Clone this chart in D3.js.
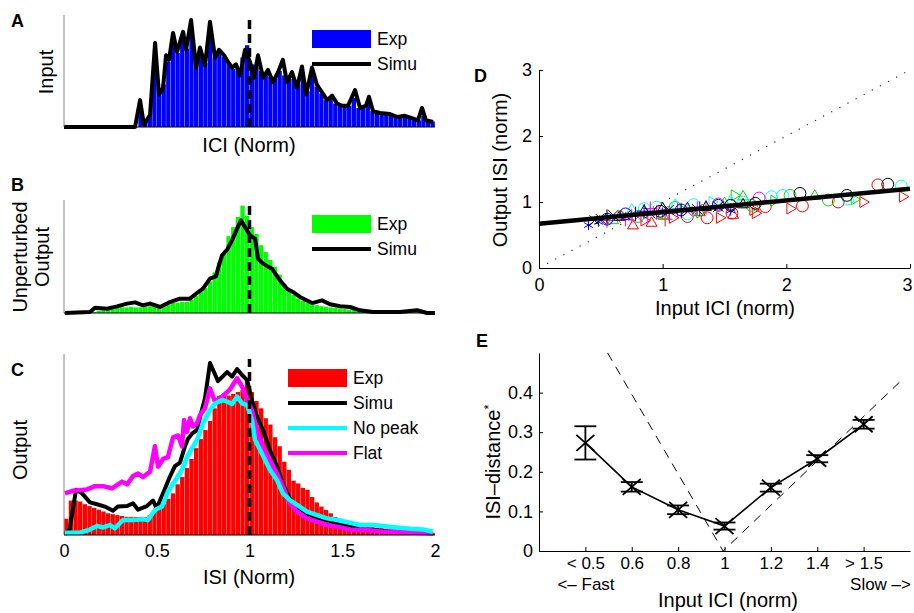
<!DOCTYPE html>
<html>
<head>
<meta charset="utf-8">
<script src="https://cdn.jsdelivr.net/npm/d3@7"></script>
<style>
  body { margin: 0; background: #fff; }
  text { font-family: "Liberation Sans", Arial, Helvetica, sans-serif; fill: #000; }
</style>
</head>
<body>
<svg id="fig" width="914" height="613"></svg>
<script>
// ---- data ----
const binW = 0.025;

// A: input ICI histogram
const inputExp = [0,0,0,0,0,0,0,0,0,0,0,0,0,0,0,0,
  0.18,0.05,0.1,0.6,0.3,0.38,0.58,0.76,0.66,0.8,0.7,0.85,0.56,0.68,0.57,0.85,
  0.62,0.66,0.63,0.57,0.52,0.5,0.62,0.73,0.56,0.54,0.5,0.47,0.45,0.44,0.5,0.46,
  0.43,0.43,0.38,0.46,0.32,0.46,0.36,0.3,0.24,0.25,0.21,0.19,0.18,0.19,0.26,0.17,
  0.17,0.21,0.14,0.12,0.12,0.11,0.11,0.09,0.095,0.09,0.085,0.07,0.06,0.1,0.06,0.05];
const inputSimuX = [0,0.383,0.41,0.431,0.464,0.491,0.512,0.534,0.55,0.566,0.588,0.609,0.642,0.658,0.685,0.712,0.733,0.76,0.787,0.814,0.836,0.863,0.884,0.906,0.927,0.949,0.976,1.003,1.024,1.046,1.073,1.1,1.127,1.154,1.18,1.202,1.229,1.256,1.283,1.305,1.337,1.364,1.391,1.418,1.445,1.472,1.499,1.531,1.569,1.596,1.628,1.644,1.666,1.704,1.757,1.795,1.838,1.876,1.908,1.93,1.951,1.989];
const inputSimuY = [0,0,0.24,0.02,0.11,0.75,0.29,0.35,0.64,0.6,0.84,0.67,0.85,0.69,0.955,0.53,0.71,0.55,0.94,0.62,0.69,0.64,0.58,0.53,0.56,0.46,0.69,0.58,0.44,0.64,0.44,0.51,0.4,0.49,0.6,0.4,0.49,0.35,0.54,0.29,0.53,0.375,0.31,0.24,0.28,0.21,0.19,0.19,0.33,0.17,0.19,0.27,0.14,0.125,0.116,0.09,0.1,0.08,0.06,0.17,0.06,0.045];

// B: unperturbed output
const unpertExp = [0.005,0.005,0.005,0.005,0.005,0.005,0.01,0.02,0.025,0.03,0.04,0.045,0.05,0.05,0.055,0.05,
  0.05,0.055,0.06,0.06,0.07,0.08,0.08,0.09,0.09,0.1,0.1,0.12,0.15,0.19,0.22,0.28,
  0.36,0.45,0.54,0.68,0.76,0.85,0.95,0.86,0.76,0.7,0.6,0.54,0.47,0.41,0.34,0.26,
  0.2,0.16,0.13,0.11,0.09,0.08,0.07,0.06,0.055,0.05,0.045,0.04,0.035,0.03,0.03,0.025,
  0.025,0.02,0.02,0.018,0.015,0.015,0.012,0.012,0.01,0.01,0.01,0.008,0.008,0.008,0.006,0.006];
const unpertSimuX = [0.005,0.14,0.167,0.232,0.286,0.34,0.383,0.426,0.464,0.518,0.571,0.625,0.679,0.717,0.749,0.787,0.819,0.83,0.852,0.879,0.906,0.933,0.954,0.976,1.003,1.03,1.046,1.073,1.121,1.164,1.202,1.234,1.272,1.337,1.391,1.434,1.488,1.542,1.596,1.666,1.741,1.811,1.903,1.957,2.0];
const unpertSimuY = [0,0.009,0.047,0.038,0.059,0.083,0.094,0.068,0.083,0.053,0.097,0.127,0.127,0.177,0.215,0.304,0.324,0.392,0.51,0.56,0.643,0.746,0.82,0.76,0.687,0.658,0.48,0.437,0.392,0.289,0.215,0.186,0.142,0.088,0.112,0.077,0.059,0.053,0.024,0.009,0.009,0.009,0.024,0,0];

// C: output
const outputExp = [0.09,0.19,0.19,0.185,0.17,0.16,0.15,0.14,0.13,0.12,0.115,0.11,0.105,0.1,0.1,0.1,
  0.1,0.1,0.11,0.13,0.15,0.17,0.2,0.23,0.28,0.32,0.37,0.42,0.48,0.53,0.58,0.63,
  0.7,0.77,0.78,0.77,0.78,0.79,0.8,0.86,0.79,0.74,0.7,0.645,0.61,0.54,0.49,0.405,
  0.36,0.3,0.285,0.26,0.25,0.21,0.18,0.157,0.138,0.12,0.1,0.09,0.083,0.075,0.065,0.06,
  0.055,0.05,0.045,0.04,0.038,0.035,0.032,0.03,0.028,0.025,0.022,0.02,0.02,0.018,0.015,0.012];
const outSimuX = [0.005,0.03,0.065,0.097,0.14,0.178,0.22,0.264,0.29,0.34,0.372,0.399,0.447,0.48,0.5,0.534,0.57,0.598,0.625,0.652,0.668,0.69,0.717,0.733,0.76,0.787,0.83,0.879,0.906,0.933,0.96,0.987,1.013,1.04,1.073,1.11,1.148,1.18,1.218,1.256,1.31,1.364,1.418,1.472,1.542,1.596,1.666,1.757,1.865,1.989];
const outSimuY = [0.005,0.03,0.25,0.23,0.18,0.17,0.157,0.134,0.157,0.16,0.175,0.14,0.16,0.19,0.147,0.23,0.32,0.38,0.4,0.49,0.53,0.56,0.58,0.65,0.755,0.95,0.85,0.9,0.875,0.917,0.884,0.856,0.746,0.654,0.58,0.47,0.38,0.285,0.2,0.157,0.12,0.096,0.083,0.064,0.046,0.031,0.028,0.018,0.015,0.01];
const noPeakX = [0.005,0.086,0.14,0.178,0.21,0.248,0.275,0.318,0.372,0.426,0.453,0.49,0.528,0.56,0.598,0.636,0.663,0.69,0.717,0.749,0.787,0.814,0.852,0.879,0.906,0.933,0.96,0.987,1.013,1.03,1.067,1.11,1.148,1.18,1.218,1.256,1.31,1.364,1.418,1.472,1.542,1.596,1.666,1.757,1.865,1.935,1.989];
const noPeakY = [0.013,0.013,0.03,0.05,0.042,0.055,0.037,0.083,0.083,0.087,0.083,0.138,0.157,0.24,0.3,0.36,0.43,0.48,0.525,0.617,0.69,0.727,0.746,0.737,0.724,0.764,0.727,0.718,0.635,0.525,0.45,0.36,0.304,0.23,0.193,0.166,0.129,0.11,0.092,0.083,0.068,0.055,0.055,0.046,0.035,0.031,0.018];
const flatX = [0.005,0.05,0.124,0.167,0.21,0.259,0.313,0.34,0.372,0.399,0.426,0.464,0.49,0.507,0.534,0.56,0.588,0.615,0.636,0.647,0.663,0.679,0.695,0.717,0.733,0.76,0.787,0.814,0.852,0.895,0.933,0.96,0.987,1.013,1.04,1.073,1.11,1.148,1.18,1.218,1.256,1.31,1.364,1.418,1.472,1.542,1.633,1.72,1.811,1.903,1.989];
const flatY = [0.23,0.245,0.252,0.27,0.27,0.258,0.295,0.28,0.326,0.34,0.32,0.35,0.49,0.378,0.42,0.43,0.54,0.55,0.49,0.635,0.57,0.645,0.6,0.617,0.663,0.7,0.81,0.737,0.764,0.805,0.866,0.82,0.746,0.69,0.58,0.488,0.414,0.34,0.267,0.175,0.13,0.092,0.074,0.055,0.046,0.031,0.028,0.018,0.018,0.013,0.01];

// D: output ISI vs input ICI (sym: o ^ > + x *, colour: r g c m b k)
const dX = [0.76,0.91,0.85,1.02,1.08,1.2,1.36,1.46,1.3,1.56,1.57,1.73,1.75,1.83,2.03,2.13,2.42,2.62,2.74,2.94,
  0.6,0.8,1.0,1.1,1.3,1.5,1.58,1.72,1.9,2.03,2.23,2.34,2.55,1.65,
  0.75,0.85,0.95,1.1,1.25,1.4,1.55,1.65,1.88,1.97,2.5,2.93,1.2,
  0.55,0.62,0.7,0.75,0.8,0.88,0.95,1.0,1.05,1.12,1.2,1.28,1.35,1.45,1.78,0.9,
  0.4,0.48,0.55,0.7,0.85,1.0,1.15,1.3,1.45,1.55,
  0.45,0.5,0.55,0.6,0.65,0.7,0.78,0.85,0.9,0.98,1.0,1.05,1.15,1.2,1.28,1.35,1.45,1.55,1.65,1.75,2.11,2.49,2.82];
const dY = [0.64,0.68,0.72,0.74,0.76,0.78,0.76,0.76,0.84,0.83,0.8,0.88,0.83,0.93,0.9,0.94,1.0,1.0,1.26,1.08,
  0.72,0.78,0.8,0.92,0.84,0.98,1.1,0.95,1.02,1.1,1.09,1.03,1.04,1.08,
  0.88,0.9,0.92,0.95,0.96,1.0,1.02,1.0,1.08,1.1,1.05,1.24,0.82,
  0.72,0.76,0.74,0.79,0.77,0.8,0.84,0.86,0.83,0.88,0.86,0.9,0.92,0.97,1.06,0.9,
  0.65,0.7,0.74,0.82,0.86,0.84,0.88,0.9,0.95,0.87,
  0.72,0.74,0.78,0.8,0.77,0.8,0.82,0.86,0.83,0.86,0.9,0.88,0.87,0.9,0.89,0.92,0.93,0.95,0.96,0.98,1.13,1.1,1.27];
const dSym = ["^","^",">","+",">","o","o",">","^","o","^",">",">","o",">","o","o",">","o",">",
  "^","o","^","o",">","^",">","o",">","o","^","o",">","^",
  "^","o","o","^","o",">","^","o","o","o","o","o","o",
  "+","x","+","+","x","+","+","x","+","+","x","+","+","o","o","+",
  "*","*","o","o","+","*","o","+","o","*",
  "x","x","+","x","^","x","+","^","x","o","^","x","+","^","x","^","x","o","^","o","o","o","o"];
const dCol = ["r","r","r","r","r","r","r","r","r","r","r","r","r","r","r","r","r","r","r","r",
  "g","g","g","g","g","g","g","g","g","g","g","g","g","g",
  "c","c","c","c","c","c","c","c","c","c","c","c","c",
  "m","m","m","m","m","m","m","m","m","m","m","m","m","m","m","m",
  "b","b","b","b","b","b","b","b","b","b",
  "k","k","k","k","k","k","k","k","k","k","k","k","k","k","k","k","k","k","k","k","k","k","k"];
const dFitX = [0, 3];
const dFitY = [0.67, 1.2];
const dTicks = [0, 1, 2, 3];

// E: ISI-distance per input ICI class
const eCats = ["< 0.5", "0.6", "0.8", "1", "1.2", "1.4", "> 1.5"];
const eVals = [0.273, 0.162, 0.104, 0.063, 0.16, 0.233, 0.32];
const eErr  = [0.042, 0.012, 0.011, 0.009, 0.01, 0.009, 0.011];
const eRefX = [1.48, 3.97, 7.86];
const eRefY = [0.5, 0, 0.436];
const eTicks = [0, 0.1, 0.2, 0.3, 0.4];

// ---- drawing ----
const svg = d3.select("#fig");
const colors = { r: "#ff0000", g: "#00dd00", c: "#00ffff", m: "#ff00ff", b: "#0000ff", k: "#000000" };
const tickFont = 18;
const axisFont = 20;

function label(txt, x, y, opt = {}) {
  const t = svg.append("text")
    .attr("x", x).attr("y", y)
    .attr("font-size", opt.size || axisFont)
    .attr("text-anchor", opt.anchor || "middle")
    .attr("font-weight", opt.bold ? "bold" : null)
    .text(txt);
  if (opt.rotate) t.attr("transform", `rotate(-90,${x},${y})`);
  return t;
}

function histPanel(top, base, bars, barColor, lines) {
  const x = d3.scaleLinear().domain([0, 2]).range([64, 435]);
  const y = d3.scaleLinear().domain([0, 1]).range([base, top]);
  const g = svg.append("g");

  g.selectAll("rect.bar").data(bars).join("rect")
    .attr("x", (d, i) => x(i * binW) + 0.15)
    .attr("width", x(binW) - x(0) - 0.3)
    .attr("y", d => y(d))
    .attr("height", d => y(0) - y(d))
    .attr("fill", barColor);

  const line = d3.line().x(d => x(d[0])).y(d => y(d[1]));
  lines.forEach(l => {
    g.append("path")
      .datum(d3.zip(l.x, l.y))
      .attr("fill", "none")
      .attr("stroke", l.color)
      .attr("stroke-width", l.w || 4)
      .attr("stroke-linejoin", "round")
      .attr("d", line);
  });

  // dashed marker at 1
  g.append("line")
    .attr("x1", x(1)).attr("x2", x(1))
    .attr("y1", y(0)).attr("y2", top + 5)
    .attr("stroke", "#000").attr("stroke-width", 3.5)
    .attr("stroke-dasharray", "9,5");

  g.append("line").attr("x1", x(0)).attr("x2", x(0)).attr("y1", top).attr("y2", base)
    .attr("stroke", "#888").attr("stroke-width", 1);
  g.append("line").attr("x1", x(0)).attr("x2", x(2)).attr("y1", base).attr("y2", base)
    .attr("stroke", "#000").attr("stroke-width", 1);
  return { x, y, g };
}

function legend(x0, y0, items) {
  items.forEach((it, i) => {
    const yy = y0 + i * 25;
    if (it.box) {
      svg.append("rect").attr("x", x0).attr("y", yy - 9).attr("width", 59).attr("height", 18)
        .attr("fill", it.color);
    } else {
      svg.append("line").attr("x1", x0).attr("x2", x0 + 59).attr("y1", yy).attr("y2", yy)
        .attr("stroke", it.color).attr("stroke-width", 4);
    }
    label(it.name, x0 + 65, yy + 6, { anchor: "start", size: 17.5 });
  });
}

function styleTicks(a) {
  a.selectAll("text").attr("font-size", tickFont).attr("font-family", null);
}

// Panel A
histPanel(15, 127, inputExp, "#0000ff", [
  { x: inputSimuX, y: inputSimuY, color: "#000" }
]);
legend(312, 39, [{ name: "Exp", color: "#0000ff", box: true }, { name: "Simu", color: "#000" }]);
label("Input", 53, 72, { rotate: true });
label("ICI (Norm)", 249, 152);
label("A", 11, 27, { bold: true, anchor: "start", size: 18 });

// Panel B
histPanel(200, 313, unpertExp, "#00ff00", [
  { x: unpertSimuX, y: unpertSimuY, color: "#000" }
]);
legend(312, 224, [{ name: "Exp", color: "#00ff00", box: true }, { name: "Simu", color: "#000" }]);
label("Unperturbed", 27, 257, { rotate: true });
label("Output", 49, 257, { rotate: true });
label("B", 11, 191, { bold: true, anchor: "start", size: 18 });

// Panel C
const pc = histPanel(354, 535, outputExp, "#ff0000", [
  { x: outSimuX, y: outSimuY, color: "#000" },
  { x: flatX, y: flatY, color: "#ff00ff", w: 4.5 },
  { x: noPeakX, y: noPeakY, color: "#00ffff", w: 4.5 }
]);
pc.g.append("g")
  .attr("transform", "translate(0,535)")
  .call(d3.axisBottom(pc.x).tickValues([0, 0.5, 1, 1.5, 2]).tickSize(0).tickPadding(9)
    .tickFormat(d => String(d)))
  .call(a => a.select(".domain").remove())
  .call(styleTicks);
legend(288, 378, [
  { name: "Exp", color: "#ff0000", box: true },
  { name: "Simu", color: "#000" },
  { name: "No peak", color: "#00ffff" },
  { name: "Flat", color: "#ff00ff" }
]);
label("Output", 27, 450, { rotate: true });
label("ISI (Norm)", 249, 584);
label("C", 11, 376, { bold: true, anchor: "start", size: 18 });

// Panel D
{
  const x = d3.scaleLinear().domain([0, 3]).range([539, 910]);
  const y = d3.scaleLinear().domain([0, 3]).range([268, 70]);
  const g = svg.append("g");

  g.append("line")
    .attr("x1", x(0)).attr("y1", y(0)).attr("x2", x(3)).attr("y2", y(3))
    .attr("stroke", "#333").attr("stroke-width", 1.2).attr("stroke-dasharray", "1.2,8");

  const shapes = {
    "o": d3.symbol(d3.symbolCircle, 110),
    "^": d3.symbol(d3.symbolTriangle2, 85),
    ">": d3.symbol(d3.symbolTriangle2, 85),
    "+": d3.symbol(d3.symbolPlus, 70),
    "x": d3.symbol(d3.symbolTimes, 70),
    "*": d3.symbol(d3.symbolAsterisk, 70)
  };
  const pts = dX.map((v, i) => ({ x: v, y: dY[i], s: dSym[i], c: dCol[i] }));
  const order = ["r", "g", "c", "m", "b", "k"];
  pts.sort((a, b) => order.indexOf(a.c) - order.indexOf(b.c));
  g.selectAll("path.pt").data(pts).join("path")
    .attr("transform", d => `translate(${x(d.x)},${y(d.y)})${d.s === ">" ? " rotate(90)" : ""}`)
    .attr("d", d => shapes[d.s]())
    .attr("fill", "none")
    .attr("stroke", d => colors[d.c])
    .attr("stroke-width", 1);

  g.append("path")
    .datum(d3.zip(dFitX, dFitY))
    .attr("stroke", "#000").attr("stroke-width", 4.5).attr("fill", "none")
    .attr("d", d3.line().x(d => x(d[0])).y(d => y(d[1])));

  g.append("g").attr("transform", "translate(0,268)")
    .call(d3.axisBottom(x).tickValues(dTicks).tickSizeInner(-4).tickSizeOuter(0).tickPadding(10)
      .tickFormat(d3.format("d")))
    .call(styleTicks)
    .call(a => a.selectAll("text").filter(d => d === 3).attr("dx", -3));
  g.append("g").attr("transform", "translate(539,0)")
    .call(d3.axisLeft(y).tickValues(dTicks).tickSizeInner(-4).tickSizeOuter(0).tickPadding(7)
      .tickFormat(d3.format("d")))
    .call(styleTicks);

  label("Output ISI (norm)", 507, 170, { rotate: true });
  label("Input ICI (norm)", 725, 315);
  label("D", 474, 82, { bold: true, anchor: "start", size: 18 });
}

// Panel E
{
  const x = d3.scaleLinear().domain([0, 8]).range([539, 910]);
  const y = d3.scaleLinear().domain([0, 0.5]).range([551, 353]);
  const g = svg.append("g");
  const pos = eCats.map((c, i) => i + 1);

  g.append("path")
    .datum(d3.zip(eRefX, eRefY))
    .attr("fill", "none").attr("stroke", "#000").attr("stroke-width", 1)
    .attr("stroke-dasharray", "9,7")
    .attr("d", d3.line().x(d => x(d[0])).y(d => y(d[1])));

  g.append("path")
    .datum(d3.zip(pos, eVals))
    .attr("fill", "none").attr("stroke", "#000").attr("stroke-width", 1.6)
    .attr("d", d3.line().x(d => x(d[0])).y(d => y(d[1])));

  const pt = g.selectAll("g.pt").data(d3.zip(pos, eVals, eErr)).join("g")
    .attr("transform", d => `translate(${x(d[0])},0)`)
    .attr("stroke", "#000").attr("stroke-width", 1.8);
  pt.append("line").attr("x1", 0).attr("x2", 0)
    .attr("y1", d => y(d[1] - d[2])).attr("y2", d => y(d[1] + d[2]));
  pt.append("line").attr("x1", -11).attr("x2", 11)
    .attr("y1", d => y(d[1] - d[2])).attr("y2", d => y(d[1] - d[2]));
  pt.append("line").attr("x1", -11).attr("x2", 11)
    .attr("y1", d => y(d[1] + d[2])).attr("y2", d => y(d[1] + d[2]));
  pt.append("line").attr("x1", -9).attr("x2", 9)
    .attr("y1", d => y(d[1]) - 8).attr("y2", d => y(d[1]) + 8);
  pt.append("line").attr("x1", -9).attr("x2", 9)
    .attr("y1", d => y(d[1]) + 8).attr("y2", d => y(d[1]) - 8);

  g.append("g").attr("transform", "translate(539,0)")
    .call(d3.axisLeft(y).tickValues(eTicks).tickSizeInner(-4).tickSizeOuter(0).tickPadding(6)
      .tickFormat(d => d === 0 ? "0" : d.toFixed(1)))
    .call(styleTicks);
  g.append("g").attr("transform", "translate(0,551)")
    .call(d3.axisBottom(x).tickValues(pos).tickSizeInner(-4).tickSizeOuter(0).tickPadding(6)
      .tickFormat((d, i) => eCats[i]))
    .call(a => a.selectAll("text").attr("font-size", 17).attr("font-family", null));

  label("<\u2013 Fast", 586, 590, { size: 17 });
  label("Slow \u2013>", 911, 590, { anchor: "end", size: 17 });
  label("Input ICI (norm)", 728, 607);
  const yl = label("ISI\u2013distance", 500, 462, { rotate: true });
  yl.append("tspan").attr("baseline-shift", "super").attr("font-size", 13).text("*");
  label("E", 476, 347, { bold: true, anchor: "start", size: 18 });
}
</script>
</body>
</html>
